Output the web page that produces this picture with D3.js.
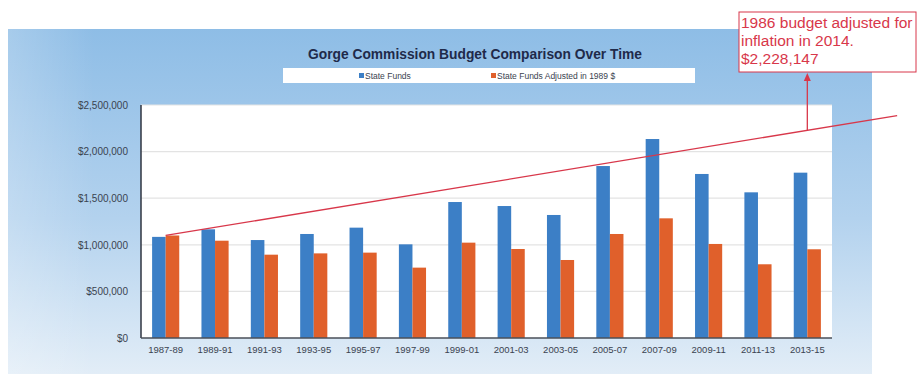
<!DOCTYPE html>
<html>
<head>
<meta charset="utf-8">
<script src="https://cdn.jsdelivr.net/npm/d3@7/dist/d3.min.js"></script>
<style>
  html, body { margin: 0; padding: 0; background: #ffffff; }
  svg { display: block; }
  text { font-family: "Liberation Sans", Arial, sans-serif; }
</style>
</head>
<body>
<svg id="chart" width="917" height="376"></svg>
<script>
// Biennium labels along the x axis
const categories = ["1987-89", "1989-91", "1991-93", "1993-95", "1995-97", "1997-99", "1999-01",
  "2001-03", "2003-05", "2005-07", "2007-09", "2009-11", "2011-13", "2013-15"];

// State funds per biennium (nominal dollars)
const stateFunds = [1085000, 1166000, 1051000, 1116000, 1184000, 1005000, 1459000,
  1416000, 1320000, 1845000, 2135000, 1760000, 1563000, 1774000];

// State funds expressed in 1989 dollars
const adjustedFunds = [1100000, 1044000, 894000, 908000, 916000, 755000, 1023000,
  955000, 837000, 1116000, 1284000, 1009000, 791000, 952000];

const yTicks = [0, 500000, 1000000, 1500000, 2000000, 2500000];

const seriesNames = ["State Funds", "State Funds Adjusted in 1989 $"];

// Inflation line: 1986 budget, and the same budget adjusted to 2014
const inflationStart = 1100000;
const inflationEnd = 2228147;
const noteLines = ["1986 budget adjusted for", "inflation in 2014.", "$2,228,147"];

const colors = ["#3c7fc6", "#e0602b"];
const noteRed = "#d8374a";

const svg = d3.select("#chart");
const plot = { left: 141, right: 832, top: 105, bottom: 338 };

// Background panel with a soft vertical blue gradient
const defs = svg.append("defs");
const grad = defs.append("linearGradient").attr("id", "panelGrad")
  .attr("x1", 0).attr("y1", 0).attr("x2", 0).attr("y2", 1);
grad.append("stop").attr("offset", "0%").attr("stop-color", "#8ebde6");
grad.append("stop").attr("offset", "55%").attr("stop-color", "#b3d2ee");
grad.append("stop").attr("offset", "100%").attr("stop-color", "#e2edf7");
const gradH = defs.append("linearGradient").attr("id", "panelEdge")
  .attr("x1", 0).attr("y1", 0).attr("x2", 1).attr("y2", 0);
gradH.append("stop").attr("offset", "0%").attr("stop-color", "#ffffff").attr("stop-opacity", 0.22);
gradH.append("stop").attr("offset", "10%").attr("stop-color", "#ffffff").attr("stop-opacity", 0);

svg.append("rect").attr("x", 8).attr("y", 29).attr("width", 864).attr("height", 345)
  .attr("fill", "url(#panelGrad)");
svg.append("rect").attr("x", 8).attr("y", 29).attr("width", 864).attr("height", 345)
  .attr("fill", "url(#panelEdge)");

// Plot area
svg.append("rect").attr("x", plot.left).attr("y", plot.top)
  .attr("width", plot.right - plot.left).attr("height", plot.bottom - plot.top)
  .attr("fill", "#ffffff");

const x = d3.scaleBand().domain(categories).range([plot.left, plot.right])
  .paddingInner(0.45).paddingOuter(0.225);
const xSub = d3.scaleBand().domain([0, 1]).range([0, x.bandwidth()]);
const y = d3.scaleLinear().domain([0, 2500000]).range([plot.bottom, plot.top]);

// Gridlines
svg.append("g").selectAll("line").data(yTicks.slice(1)).join("line")
  .attr("x1", plot.left).attr("x2", plot.right)
  .attr("y1", d => y(d)).attr("y2", d => y(d))
  .attr("stroke", "#e3e3e3").attr("stroke-width", 1.2);

// Y axis labels
const yAxis = svg.append("g").attr("transform", `translate(${plot.left},0)`)
  .call(d3.axisLeft(y).tickValues(yTicks).tickFormat(d3.format("$,.0f")).tickSize(0).tickPadding(13));
yAxis.select(".domain").remove();
yAxis.selectAll("text").attr("font-size", 10).attr("fill", "#3a4350")
  .attr("font-family", "'Liberation Sans', Arial, sans-serif");

// Bars
const series = [stateFunds, adjustedFunds];
const groups = svg.append("g").selectAll("g").data(categories).join("g")
  .attr("transform", d => `translate(${x(d)},0)`);
groups.selectAll("rect").data((d, i) => series.map((s, k) => ({ k, v: s[i] }))).join("rect")
  .attr("x", d => xSub(d.k)).attr("width", xSub.bandwidth())
  .attr("y", d => y(d.v)).attr("height", d => y(0) - y(d.v))
  .attr("fill", d => colors[d.k]);

// Axis lines
svg.append("line").attr("x1", plot.left).attr("x2", plot.left)
  .attr("y1", plot.top).attr("y2", plot.bottom).attr("stroke", "#2f3440").attr("stroke-width", 1.5);
svg.append("line").attr("x1", plot.left).attr("x2", plot.right)
  .attr("y1", plot.bottom).attr("y2", plot.bottom).attr("stroke", "#4a4f58").attr("stroke-width", 1.5);

// X axis labels
const xAxis = svg.append("g").attr("transform", `translate(0,${plot.bottom})`)
  .call(d3.axisBottom(x).tickSize(0).tickPadding(8));
xAxis.select(".domain").remove();
xAxis.selectAll("text").attr("font-size", 9.5).attr("fill", "#3a4350")
  .attr("font-family", "'Liberation Sans', Arial, sans-serif");

// Inflation trend line, running past the last biennium
const idx = d3.scaleLinear().domain([0, categories.length - 1])
  .range([x(categories[0]) + x.bandwidth() / 2, x(categories[categories.length - 1]) + x.bandwidth() / 2]);
const trend = d3.scaleLinear().domain([0, categories.length - 1]).range([inflationStart, inflationEnd]);
const trendIdx = [0, categories.length - 1 + 1.82];
svg.append("path")
  .datum(trendIdx)
  .attr("d", d3.line().x(i => idx(i)).y(i => y(trend(i))))
  .attr("stroke", noteRed).attr("stroke-width", 1.3).attr("fill", "none");

// Title
svg.append("text").attr("x", 475).attr("y", 59).attr("text-anchor", "middle")
  .attr("font-size", 13.8).attr("font-weight", "bold").attr("fill", "#1f2a4a")
  .text("Gorge Commission Budget Comparison Over Time");

// Legend
svg.append("rect").attr("x", 283).attr("y", 68).attr("width", 412).attr("height", 15).attr("fill", "#ffffff");
const legendX = [359, 491];
const legend = svg.append("g").selectAll("g").data(seriesNames).join("g")
  .attr("transform", (d, i) => `translate(${legendX[i]},75.5)`);
legend.append("rect").attr("x", 0).attr("y", -2.5).attr("width", 5).attr("height", 5)
  .attr("fill", (d, i) => colors[i]);
legend.append("text").attr("x", 6).attr("y", 3).attr("font-size", 8.5).attr("fill", "#3a4350")
  .text(d => d);

// Annotation box with arrow pointing to the 2013-15 inflation value
const lastCenter = idx(categories.length - 1);
const boxBottom = 72;
svg.append("line").attr("x1", lastCenter).attr("x2", lastCenter)
  .attr("y1", y(inflationEnd)).attr("y2", boxBottom + 6)
  .attr("stroke", noteRed).attr("stroke-width", 1.3);
svg.append("path")
  .attr("d", `M${lastCenter - 3.5},${boxBottom + 9}L${lastCenter},${boxBottom + 1}L${lastCenter + 3.5},${boxBottom + 9}Z`)
  .attr("fill", noteRed);
svg.append("rect").attr("x", 739).attr("y", 12).attr("width", 177).attr("height", boxBottom - 12)
  .attr("fill", "#ffffff").attr("stroke", noteRed).attr("stroke-width", 1);
svg.append("g").selectAll("text").data(noteLines).join("text")
  .attr("x", 741).attr("y", (d, i) => 28 + i * 18)
  .attr("font-size", 15.5).attr("fill", noteRed)
  .text(d => d);
</script>
</body>
</html>
